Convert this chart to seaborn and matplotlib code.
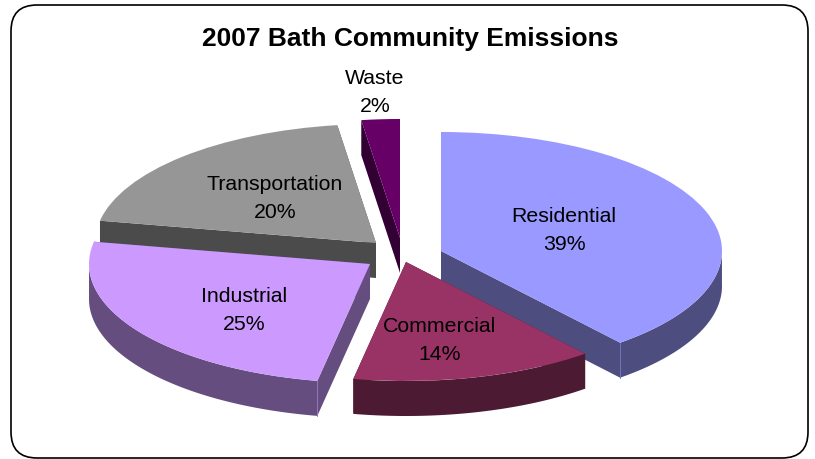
import numpy as np
import matplotlib
matplotlib.use("Agg")
import matplotlib.pyplot as plt
from matplotlib.patches import FancyBboxPatch
from matplotlib.transforms import IdentityTransform
import seaborn as sns

# ---- data ----
categories = ["Residential", "Commercial", "Industrial", "Transportation", "Waste"]
shares = [39.0, 14.0, 25.0, 19.8, 2.2]
colors = ["#9999FF", "#993366", "#CC99FF", "#969696", "#660066"]
title = "2007 Bath Community Emissions"

# ---- layout (pixels of the 815x459 picture) ----
W, H = 815, 459
RX, RY, DEPTH = 281.0, 119.0, 35.0
apex_px = [(441, 251), (406, 262), (370, 264), (376, 243), (400, 238)]
label_px = [(564, 230), (440, 341), (244, 311), (275, 198), (375, 93)]
paint_order = [4, 3, 0, 2, 1]      # back to front
wall_shade = 0.5

sns.set_theme(style="white")
plt.rcParams["font.family"] = ["Liberation Sans", "DejaVu Sans"]

fig = plt.figure(figsize=(W / 100, H / 100), dpi=100, facecolor="white")
ax = fig.add_axes([0, 0, 1, 1])


def to_data(px, py):
    return px / RX, (H - py) / RY


palette = sns.color_palette(colors)
wedges, _ = ax.pie(shares, colors=palette, startangle=90, counterclock=False,
                   radius=1.0, wedgeprops={"linewidth": 0})
ax.set_aspect("auto")
ax.set_xlim(0, W / RX)
ax.set_ylim(0, H / RY)
ax.axis("off")

depth = DEPTH / RY
for rank, i in enumerate(paint_order):
    w = wedges[i]
    cx, cy = to_data(*apex_px[i])
    w.set_center((cx, cy))
    base = 10 + rank * 10
    w.set_zorder(base + 3)
    dark = tuple(c * wall_shade for c in palette[i])
    t1, t2 = np.radians(w.theta1), np.radians(w.theta2)
    # two cut faces
    for t in (t1, t2):
        ex, ey = cx + np.cos(t), cy + np.sin(t)
        ax.fill([cx, ex, ex, cx], [cy, ey, ey - depth, cy - depth],
                color=dark, lw=0, zorder=base + 1)
    # outer rim, only the part that faces the viewer
    ts = np.linspace(t1, t2, 200)
    ts = ts[np.sin(ts) < 0.02]
    if len(ts):
        ax_, ay_ = cx + np.cos(ts), cy + np.sin(ts)
        ax.fill(np.r_[ax_, ax_[::-1]], np.r_[ay_, ay_[::-1] - depth],
                color=dark, lw=0, zorder=base + 2)
    # lighter corner line on the front edge
    if i in (0, 2):
        t = t1 if i == 0 else t2
        ex, ey = cx + np.cos(t), cy + np.sin(t)
        ax.plot([ex, ex], [ey, ey - depth], color=tuple(c * 0.75 for c in palette[i]),
                lw=0.7, zorder=base + 2.5)

for name, share, (px, py) in zip(categories, shares, label_px):
    x, y = to_data(px, py)
    ax.text(x, y, f"{name}\n{share:.0f}%", ha="center", va="center", fontsize=15.3,
            linespacing=1.6, color="black", zorder=100)

tx, ty = to_data(410, 39)
ax.text(tx, ty, title, ha="center", va="center", fontsize=19, fontweight="bold",
        color="black", zorder=100)

frame = FancyBboxPatch((11, H - 458), 797, 453,
                       boxstyle="round,pad=0,rounding_size=26",
                       fill=False, edgecolor="black", linewidth=1.2,
                       transform=IdentityTransform())
fig.add_artist(frame)

fig.savefig("out.png", dpi=100, facecolor="white")
